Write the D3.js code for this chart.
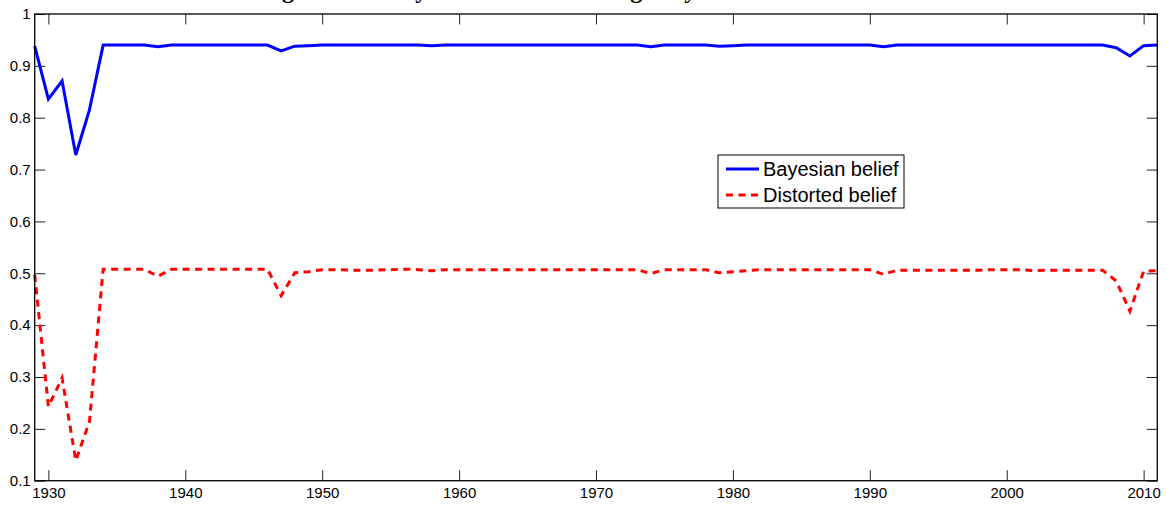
<!DOCTYPE html>
<html>
<head>
<meta charset="utf-8">
<script src="https://cdn.jsdelivr.net/npm/d3@7"></script>
<style>
  body { margin: 0; background: #fff; }
  text { font-family: "Liberation Sans", Arial, sans-serif; }
</style>
</head>
<body>
<script>
// years on the x axis
var years = d3.range(1929, 2012);

// Bayesian belief, one value per year 1929..2011
var bayesian = [
  0.938, 0.836, 0.871, 0.728, 0.815, 0.940, 0.940, 0.940, 0.940, 0.937,
  0.940, 0.940, 0.940, 0.940, 0.940, 0.940, 0.940, 0.940, 0.929, 0.938,
  0.939, 0.940, 0.940, 0.940, 0.940, 0.940, 0.940, 0.940, 0.940, 0.939,
  0.940, 0.940, 0.940, 0.940, 0.940, 0.940, 0.940, 0.940, 0.940, 0.940,
  0.940, 0.940, 0.940, 0.940, 0.940, 0.937, 0.940, 0.940, 0.940, 0.940,
  0.938, 0.939, 0.940, 0.940, 0.940, 0.940, 0.940, 0.940, 0.940, 0.940,
  0.940, 0.940, 0.937, 0.940, 0.940, 0.940, 0.940, 0.940, 0.940, 0.940,
  0.940, 0.940, 0.940, 0.940, 0.940, 0.940, 0.940, 0.940, 0.940, 0.935,
  0.919, 0.939, 0.940
];

// Distorted belief, one value per year 1929..2011
var distorted = [
  0.497, 0.243, 0.298, 0.139, 0.214, 0.508, 0.508, 0.508, 0.508, 0.494,
  0.508, 0.508, 0.508, 0.508, 0.508, 0.508, 0.508, 0.508, 0.457, 0.501,
  0.503, 0.507, 0.507, 0.506, 0.506, 0.506, 0.507, 0.508, 0.507, 0.505,
  0.507, 0.507, 0.507, 0.507, 0.507, 0.507, 0.507, 0.507, 0.507, 0.507,
  0.507, 0.507, 0.507, 0.507, 0.507, 0.4995, 0.507, 0.507, 0.507, 0.507,
  0.501, 0.503, 0.505, 0.507, 0.507, 0.507, 0.507, 0.507, 0.507, 0.507,
  0.507, 0.507, 0.498, 0.506, 0.506, 0.506, 0.506, 0.506, 0.506, 0.506,
  0.507, 0.507, 0.507, 0.505, 0.506, 0.506, 0.506, 0.506, 0.506, 0.485,
  0.427, 0.504, 0.505
];

var xTicks = [1930, 1940, 1950, 1960, 1970, 1980, 1990, 2000, 2010];
var yTicks = [0.1, 0.2, 0.3, 0.4, 0.5, 0.6, 0.7, 0.8, 0.9, 1];
var seriesNames = ["Bayesian belief", "Distorted belief"];
var titleText = "Beliefs in a strong US economy with robust learning: Bayesian vs distorted";

var margin = {top: 14, right: 9.7, bottom: 25.3, left: 34.7},
    width = 1167 - margin.left - margin.right,
    height = 506 - margin.top - margin.bottom;

var xScale = d3.scaleLinear().domain([1929, 2011]).range([0, width]),
    yScale = d3.scaleLinear().domain([0.1, 1]).range([height, 0]);

var tickLen = 10.5;
var yFmt = function(d) { return d === 1 ? "1" : d3.format(".1f")(d); };

var svg = d3.select("body").append("svg")
    .attr("width", 1167)
    .attr("height", 506)
  .append("g")
    .attr("transform", "translate(" + margin.left + "," + margin.top + ")");

// title, mostly cut off above the picture
var title = svg.append("text")
    .attr("y", -margin.top - 2.5)
    .style("font-family", "'Liberation Serif', serif")
    .style("font-weight", "bold")
    .style("font-size", "24px")
    .text(titleText);
// line the first descender up with the one seen in the figure
var gi = titleText.indexOf("g");
var node = title.node();
var gOff = node.getSubStringLength(0, gi) + node.getSubStringLength(gi, 1) / 2;
title.attr("x", 288 - margin.left - gOff);

// axes, inward ticks on all four sides
var xAxisB = d3.axisBottom(xScale).tickValues(xTicks).tickFormat(d3.format("d"))
      .tickSizeInner(-tickLen).tickSizeOuter(0).tickPadding(7),
    xAxisT = d3.axisTop(xScale).tickValues(xTicks).tickFormat("")
      .tickSizeInner(-tickLen).tickSizeOuter(0),
    yAxisL = d3.axisLeft(yScale).tickValues(yTicks).tickFormat(yFmt)
      .tickSizeInner(-tickLen).tickSizeOuter(0).tickPadding(4),
    yAxisR = d3.axisRight(yScale).tickValues(yTicks).tickFormat("")
      .tickSizeInner(-tickLen).tickSizeOuter(0);

svg.append("g").attr("class", "axis")
    .attr("transform", "translate(0," + height + ")").call(xAxisB);
svg.append("g").attr("class", "axis").call(xAxisT);
svg.append("g").attr("class", "axis").call(yAxisL);
svg.append("g").attr("class", "axis")
    .attr("transform", "translate(" + width + ",0)").call(yAxisR);

svg.selectAll(".axis .domain").remove();
svg.selectAll(".axis line").attr("stroke", "#222").attr("stroke-width", 1);
svg.selectAll(".axis text")
    .style("font-family", "'Liberation Sans', Arial, sans-serif")
    .style("font-size", "15px")
    .attr("fill", "#000");

// lines
var line = d3.line()
    .x(function(d, i) { return xScale(years[i]); })
    .y(function(d) { return yScale(d); });

svg.append("path")
    .attr("d", line(distorted))
    .attr("fill", "none")
    .attr("stroke", "#ff0000")
    .attr("stroke-width", 3)
    .attr("stroke-dasharray", "7,5.5");

svg.append("path")
    .attr("d", line(bayesian))
    .attr("fill", "none")
    .attr("stroke", "#0000ff")
    .attr("stroke-width", 3);

// plot box
svg.append("rect")
    .attr("width", width)
    .attr("height", height)
    .attr("fill", "none")
    .attr("stroke", "#000")
    .attr("stroke-width", 1.3);

// legend
var legend = svg.append("g")
    .attr("transform", "translate(" + (718 - margin.left) + "," + (155 - margin.top) + ")");

legend.append("rect")
    .attr("width", 186)
    .attr("height", 53)
    .attr("fill", "#fff")
    .attr("stroke", "#000")
    .attr("stroke-width", 1);

var legendStyles = [
  {color: "#0000ff", dash: null},
  {color: "#ff0000", dash: "7,5.5"}
];

seriesNames.forEach(function(name, i) {
  var yy = 14 + i * 26;
  legend.append("line")
      .attr("x1", 8).attr("x2", 41)
      .attr("y1", yy).attr("y2", yy)
      .attr("stroke", legendStyles[i].color)
      .attr("stroke-width", 3)
      .attr("stroke-dasharray", legendStyles[i].dash);
  legend.append("text")
      .attr("x", 45)
      .attr("y", yy + 7)
      .style("font-size", "20px")
      .text(name);
});
</script>
</body>
</html>
